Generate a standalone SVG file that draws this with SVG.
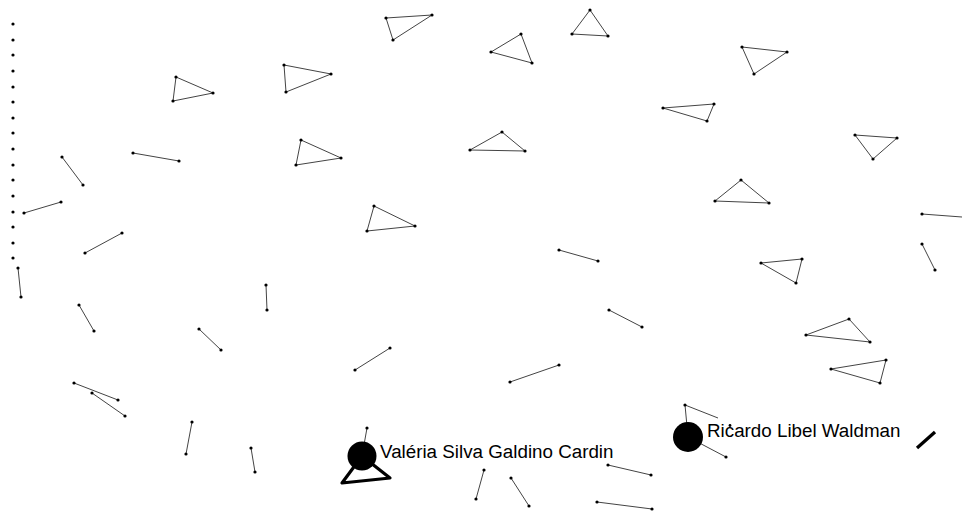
<svg xmlns="http://www.w3.org/2000/svg" width="962" height="514" viewBox="0 0 962 514">
<style>
.e{stroke:#444;stroke-width:1;fill:none}
.t{stroke:#000;stroke-width:3.2;fill:none;stroke-linejoin:round}
.n{fill:#000}
.lbl{font-family:"Liberation Sans",Arial,sans-serif;font-size:18.8px;fill:#000;stroke:#fff;stroke-width:3;paint-order:stroke;stroke-linejoin:round}
</style>
<rect width="962" height="514" fill="#fff"/>
<g id="connectors">
<polygon class="e" points="176,77 213,93 173,101"/>
<polygon class="e" points="284,65 331,74 286,92"/>
<polygon class="e" points="301,140 341,158 296,165"/>
<polygon class="e" points="386,18 432,15 393,40"/>
<polygon class="e" points="521,34 491,52 532,63"/>
<polygon class="e" points="590,10 572,34 608,36"/>
<polygon class="e" points="502,132 470,150 525,151"/>
<polygon class="e" points="742,47 787,52 754,74"/>
<polygon class="e" points="663,108 714,104 707,121"/>
<polygon class="e" points="855,135 897,138 873,159"/>
<polygon class="e" points="374,206 415,226 367,231"/>
<polygon class="e" points="741,180 715,201 769,203"/>
<polygon class="e" points="761,263 802,259 796,283"/>
<polygon class="e" points="849,319 806,335 870,342"/>
<polygon class="e" points="831,369 886,360 880,383"/>
<line class="e" x1="62" y1="157" x2="83" y2="185"/>
<line class="e" x1="133" y1="153" x2="179" y2="161"/>
<line class="e" x1="24" y1="213" x2="61" y2="202"/>
<line class="e" x1="85" y1="253" x2="122" y2="233"/>
<line class="e" x1="18" y1="268" x2="21" y2="297"/>
<line class="e" x1="79" y1="305" x2="94" y2="331"/>
<line class="e" x1="266" y1="285" x2="267" y2="310"/>
<line class="e" x1="199" y1="329" x2="221" y2="350"/>
<line class="e" x1="559" y1="250" x2="598" y2="261"/>
<line class="e" x1="609" y1="310" x2="642" y2="327"/>
<line class="e" x1="922" y1="214" x2="962" y2="217"/>
<line class="e" x1="922" y1="244" x2="935" y2="270"/>
<line class="e" x1="74" y1="383" x2="118" y2="400"/>
<line class="e" x1="92" y1="393" x2="125" y2="416"/>
<line class="e" x1="192" y1="422" x2="186" y2="454"/>
<line class="e" x1="251" y1="448" x2="255" y2="472"/>
<line class="e" x1="390" y1="348" x2="355" y2="370"/>
<line class="e" x1="559" y1="365" x2="510" y2="382"/>
<line class="e" x1="484" y1="470" x2="476" y2="499"/>
<line class="e" x1="511" y1="478" x2="529" y2="506"/>
<line class="e" x1="608" y1="465" x2="651" y2="475"/>
<line class="e" x1="597" y1="502" x2="652" y2="509"/>
<line class="e" x1="367" y1="428" x2="362" y2="456"/>
<line class="e" x1="685" y1="405" x2="688" y2="437"/>
<line class="e" x1="685" y1="405" x2="718" y2="418"/>
<line class="e" x1="688" y1="437" x2="726" y2="457"/>
<polygon class="t" points="362,456 342,483 390,478"/>
<line class="t" x1="935" y1="432" x2="917" y2="448"/>
</g>
<g id="dots" class="n">
<circle cx="13" cy="24" r="1.6"/><circle cx="13" cy="40" r="1.6"/><circle cx="13" cy="55" r="1.6"/><circle cx="13" cy="71" r="1.6"/>
<circle cx="13" cy="87" r="1.6"/><circle cx="13" cy="102" r="1.6"/><circle cx="13" cy="118" r="1.6"/><circle cx="13" cy="133" r="1.6"/>
<circle cx="13" cy="149" r="1.6"/><circle cx="13" cy="165" r="1.6"/><circle cx="13" cy="180" r="1.6"/><circle cx="13" cy="196" r="1.6"/>
<circle cx="13" cy="212" r="1.6"/><circle cx="13" cy="227" r="1.6"/><circle cx="13" cy="243" r="1.6"/><circle cx="13" cy="258" r="1.6"/>
<circle cx="176" cy="77" r="1.6"/><circle cx="213" cy="93" r="1.6"/><circle cx="173" cy="101" r="1.6"/>
<circle cx="284" cy="65" r="1.6"/><circle cx="331" cy="74" r="1.6"/><circle cx="286" cy="92" r="1.6"/>
<circle cx="301" cy="140" r="1.6"/><circle cx="341" cy="158" r="1.6"/><circle cx="296" cy="165" r="1.6"/>
<circle cx="386" cy="18" r="1.6"/><circle cx="432" cy="15" r="1.6"/><circle cx="393" cy="40" r="1.6"/>
<circle cx="521" cy="34" r="1.6"/><circle cx="491" cy="52" r="1.6"/><circle cx="532" cy="63" r="1.6"/>
<circle cx="590" cy="10" r="1.6"/><circle cx="572" cy="34" r="1.6"/><circle cx="608" cy="36" r="1.6"/>
<circle cx="502" cy="132" r="1.6"/><circle cx="470" cy="150" r="1.6"/><circle cx="525" cy="151" r="1.6"/>
<circle cx="742" cy="47" r="1.6"/><circle cx="787" cy="52" r="1.6"/><circle cx="754" cy="74" r="1.6"/>
<circle cx="663" cy="108" r="1.6"/><circle cx="714" cy="104" r="1.6"/><circle cx="707" cy="121" r="1.6"/>
<circle cx="855" cy="135" r="1.6"/><circle cx="897" cy="138" r="1.6"/><circle cx="873" cy="159" r="1.6"/>
<circle cx="374" cy="206" r="1.6"/><circle cx="415" cy="226" r="1.6"/><circle cx="367" cy="231" r="1.6"/>
<circle cx="741" cy="180" r="1.6"/><circle cx="715" cy="201" r="1.6"/><circle cx="769" cy="203" r="1.6"/>
<circle cx="761" cy="263" r="1.6"/><circle cx="802" cy="259" r="1.6"/><circle cx="796" cy="283" r="1.6"/>
<circle cx="849" cy="319" r="1.6"/><circle cx="806" cy="335" r="1.6"/><circle cx="870" cy="342" r="1.6"/>
<circle cx="831" cy="369" r="1.6"/><circle cx="886" cy="360" r="1.6"/><circle cx="880" cy="383" r="1.6"/>
<circle cx="62" cy="157" r="1.6"/><circle cx="83" cy="185" r="1.6"/>
<circle cx="133" cy="153" r="1.6"/><circle cx="179" cy="161" r="1.6"/>
<circle cx="24" cy="213" r="1.6"/><circle cx="61" cy="202" r="1.6"/>
<circle cx="85" cy="253" r="1.6"/><circle cx="122" cy="233" r="1.6"/>
<circle cx="18" cy="268" r="1.6"/><circle cx="21" cy="297" r="1.6"/>
<circle cx="79" cy="305" r="1.6"/><circle cx="94" cy="331" r="1.6"/>
<circle cx="266" cy="285" r="1.6"/><circle cx="267" cy="310" r="1.6"/>
<circle cx="199" cy="329" r="1.6"/><circle cx="221" cy="350" r="1.6"/>
<circle cx="559" cy="250" r="1.6"/><circle cx="598" cy="261" r="1.6"/>
<circle cx="609" cy="310" r="1.6"/><circle cx="642" cy="327" r="1.6"/>
<circle cx="922" cy="214" r="1.6"/>
<circle cx="922" cy="244" r="1.6"/><circle cx="935" cy="270" r="1.6"/>
<circle cx="74" cy="383" r="1.6"/><circle cx="118" cy="400" r="1.6"/>
<circle cx="92" cy="393" r="1.6"/><circle cx="125" cy="416" r="1.6"/>
<circle cx="192" cy="422" r="1.6"/><circle cx="186" cy="454" r="1.6"/>
<circle cx="251" cy="448" r="1.6"/><circle cx="255" cy="472" r="1.6"/>
<circle cx="390" cy="348" r="1.6"/><circle cx="355" cy="370" r="1.6"/>
<circle cx="559" cy="365" r="1.6"/><circle cx="510" cy="382" r="1.6"/>
<circle cx="484" cy="470" r="1.6"/><circle cx="476" cy="499" r="1.6"/>
<circle cx="511" cy="478" r="1.6"/><circle cx="529" cy="506" r="1.6"/>
<circle cx="608" cy="465" r="1.6"/><circle cx="651" cy="475" r="1.6"/>
<circle cx="597" cy="502" r="1.6"/><circle cx="652" cy="509" r="1.6"/>
<circle cx="367" cy="428" r="1.6"/>
<circle cx="685" cy="405" r="1.6"/><circle cx="726" cy="457" r="1.6"/>
</g>
<g id="node-valeria">
<circle cx="362" cy="456" r="14.5" fill="#000"/>
<text class="lbl" x="380" y="458">Valéria Silva Galdino Cardin</text>
</g>
<g id="node-ricardo">
<circle cx="688" cy="437" r="15" fill="#000"/>
<text class="lbl" x="707" y="437">Ricardo Libel Waldman</text>
<circle cx="730" cy="425.5" r="1.4" fill="#000"/>
</g>
</svg>
